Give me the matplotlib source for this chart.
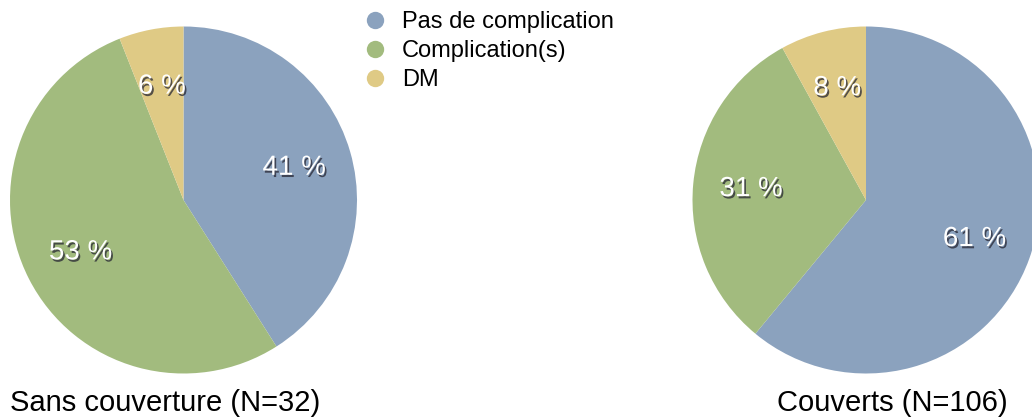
import matplotlib
matplotlib.use("Agg")
import matplotlib.pyplot as plt
import matplotlib.patheffects as pe
from matplotlib.lines import Line2D

plt.rcParams['font.family'] = ['Liberation Sans', 'DejaVu Sans']

categories = ["Pas de complication", "Complication(s)", "DM"]
colors = ["#8BA2BE", "#A2BB7E", "#DFCA85"]
left_values = [41, 53, 6]
right_values = [61, 31, 8]
left_title = "Sans couverture (N=32)"
right_title = "Couverts (N=106)"

W, H = 1032, 417
fig = plt.figure(figsize=(W / 100, H / 100), dpi=100)

R = 173.5
def pie_axes(cx, cy):
    return fig.add_axes([(cx - R) / W, (H - cy - R) / H, 2 * R / W, 2 * R / H])

shadow = [pe.SimplePatchShadow(offset=(1.2, -1.6), shadow_rgbFace=(0.15, 0.15, 0.2), alpha=0.75),
          pe.Normal()]

def draw_pie(ax, values):
    wedges, texts, autotexts = ax.pie(
        values, colors=colors, startangle=90, counterclock=False,
        autopct=lambda p: f"{p:.0f} %", pctdistance=0.665,
        wedgeprops=dict(linewidth=0),
        textprops=dict(color="white", fontsize=20))
    for t in autotexts:
        t.set_path_effects(shadow)
    ax.set_xlim(-1, 1)
    ax.set_ylim(-1, 1)
    ax.axis("off")

ax1 = pie_axes(183.5, 200)
draw_pie(ax1, left_values)
ax2 = pie_axes(866, 200)
draw_pie(ax2, right_values)

fig.text(10 / W, 6 / H, left_title, fontsize=21, ha="left", va="baseline")
fig.text(1008 / W, 6 / H, right_title, fontsize=21, ha="right", va="baseline")

handles = [Line2D([], [], linestyle="none", marker="o", markersize=12.5,
                  markerfacecolor=c, markeredgewidth=0) for c in colors]
fig.legend(handles, categories, loc="upper left",
           bbox_to_anchor=(363 / W, 1 - 11 / H), frameon=False,
           fontsize=17, handlelength=1.0, handletextpad=0.65,
           labelspacing=0.3, borderpad=0, borderaxespad=0)

fig.savefig("out.png", dpi=100)
